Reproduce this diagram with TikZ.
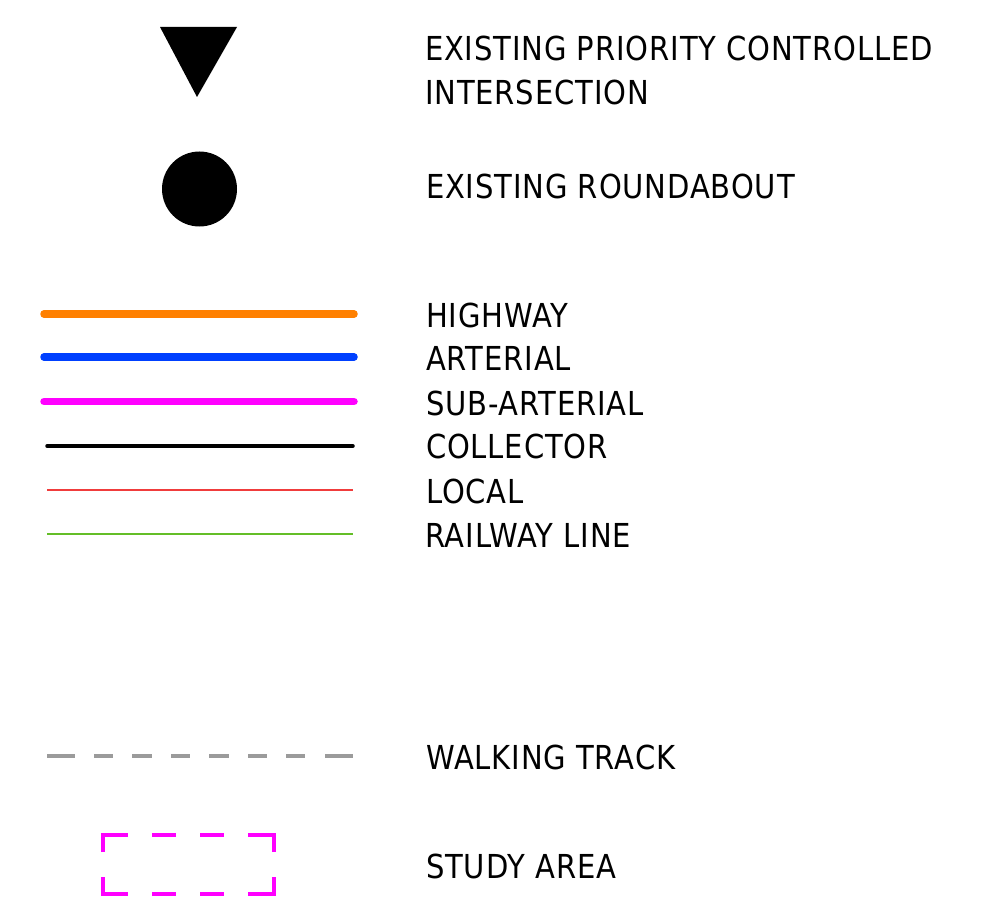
\documentclass[tikz,border=0pt]{standalone}
\usepackage{fontspec}
\setmainfont[LetterSpace=3]{DejaVu Sans}
\definecolor{hwy}{RGB}{255,128,0}
\definecolor{art}{RGB}{0,64,255}
\definecolor{sub}{RGB}{255,0,255}
\definecolor{loc}{RGB}{240,60,60}
\definecolor{rail}{RGB}{100,190,40}
\definecolor{walk}{RGB}{155,155,155}
\newcommand{\lgtxt}[1]{\scalebox{0.88}[1]{\fontsize{33}{33}\selectfont #1}}
\begin{document}
\begin{tikzpicture}[x=1pt,y=-1pt,
  lbl/.style={anchor=base west,inner sep=0pt,outer sep=0pt},
  fat/.style={line width=7.5pt,line cap=round},
  wdash/.style={walk,line width=4pt},
  sdash/.style={sub,line width=4pt}]
\useasboundingbox (0,0) rectangle (986,923);
% symbols
\fill (160,27) coordinate (t1) -- (237,27) coordinate (t2) -- (197,97) coordinate (t3) -- cycle;
\fill (199.5,189) circle (37.5);
% lines
\coordinate (hA) at (44,314); \coordinate (hB) at (354,314);
\draw[fat,hwy] (hA) -- (hB);
\coordinate (aA) at (44,357); \coordinate (aB) at (354,357);
\draw[fat,art] (aA) -- (aB);
\coordinate (sA) at (44,401.5); \coordinate (sB) at (354,401.5);
\draw[fat,sub] (sA) -- (sB);
\coordinate (cA) at (47,446); \coordinate (cB) at (353,446);
\draw[line width=3.5pt,line cap=round] (cA) -- (cB);
\coordinate (lA) at (47,490); \coordinate (lB) at (353,490);
\draw[line width=1.6pt,loc] (lA) -- (lB);
\coordinate (rA) at (47,534); \coordinate (rB) at (353,534);
\draw[line width=1.6pt,rail] (rA) -- (rB);
% walking track
\foreach \a/\b in {47/75,94/113,132/152,171/190,209/229,248/267,286/305,325/353}
  \draw[wdash] (\a,756) -- (\b,756);
% study area
\draw[sdash] (103,852) -- (103,835) -- (128,835);
\draw[sdash] (152,835) -- (176,835);
\draw[sdash] (200,835) -- (224,835);
\draw[sdash] (248,835) -- (274,835) -- (274,852);
\draw[sdash] (103,877) -- (103,894) -- (128,894);
\draw[sdash] (152,894) -- (176,894);
\draw[sdash] (200,894) -- (224,894);
\draw[sdash] (248,894) -- (274,894) -- (274,877);
% labels
\node[lbl] (n1) at (425,61) {\lgtxt{EXISTING PRIORITY CONTROLLED}};
\node[lbl] (n2) at (425,105) {\lgtxt{INTERSECTION}};
\node[lbl] (n3) at (426,199) {\lgtxt{EXISTING ROUNDABOUT}};
\node[lbl] (n4) at (426,327) {\lgtxt{HIGHWAY}};
\node[lbl] (n5) at (426,370) {\lgtxt{ARTERIAL}};
\node[lbl] (n6) at (426,415) {\lgtxt{SUB-ARTERIAL}};
\node[lbl] (n7) at (426,458) {\lgtxt{COLLECTOR}};
\node[lbl] (n8) at (426,503) {\lgtxt{LOCAL}};
\node[lbl] (n9) at (425,547) {\lgtxt{RAILWAY LINE}};
\node[lbl] (n10) at (426,769) {\lgtxt{WALKING TRACK}};
\node[lbl] (n11) at (426,878) {\lgtxt{STUDY AREA}};
\end{tikzpicture}
\end{document}
